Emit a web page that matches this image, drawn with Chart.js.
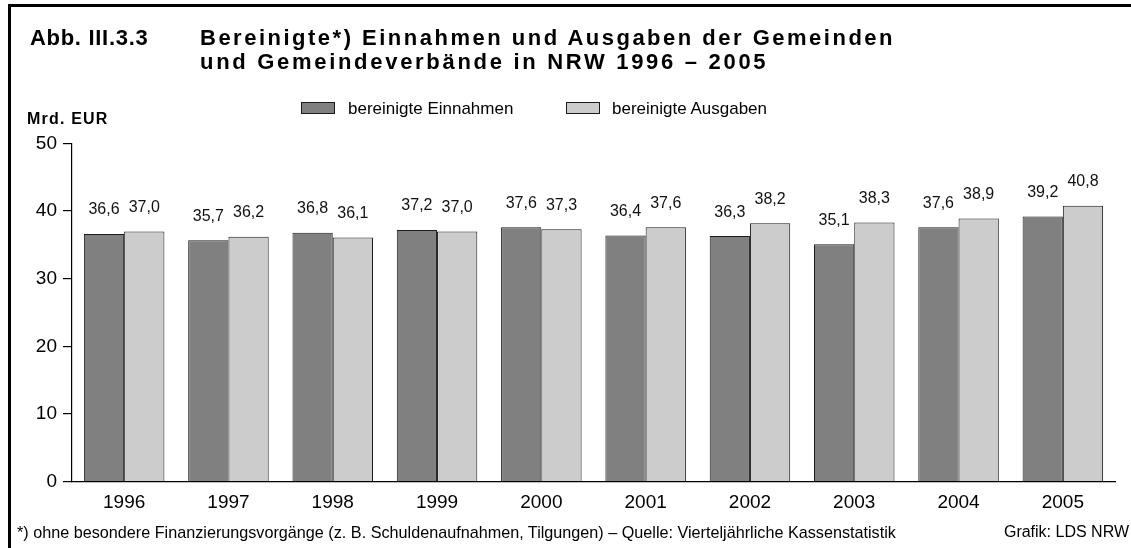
<!DOCTYPE html>
<html>
<head>
<meta charset="utf-8">
<script src="https://cdn.jsdelivr.net/npm/chart.js@4.4.1/dist/chart.umd.min.js"></script>
<style>
  html, body { margin: 0; padding: 0; background: #fff; }
  body { width: 1131px; height: 548px; position: relative; overflow: hidden; font-family: "Liberation Sans", Arial, sans-serif; color: #000; }
  #frame { position: absolute; left: 8px; top: 4px; width: 1130px; height: 550px; border-top: 3px solid #000; border-left: 3px solid #000; box-sizing: border-box; }
  .t { position: absolute; white-space: nowrap; line-height: 1; }
  .bold { font-weight: bold; }
  #abb { left: 30px; top: 27px; font-size: 22px; letter-spacing: 0.7px; }
  #title1 { left: 200px; top: 27px; font-size: 22px; letter-spacing: 2.5px; }
  #title2 { left: 200px; top: 51px; font-size: 22px; letter-spacing: 2.7px; }
  #unit { left: 27px; top: 111px; font-size: 16px; letter-spacing: 1.2px; }
  .lg-box { position: absolute; width: 34px; height: 12px; box-sizing: border-box; border: 1px solid #1a1a1a; }
  .lg-txt { position: absolute; font-size: 17px; line-height: 1; white-space: nowrap; }
  #foot { left: 17px; top: 524px; font-size: 16.2px; }
  #credit { right: 2px; top: 524px; font-size: 16px; }
  #chartwrap { position: absolute; left: 0; top: 0; width: 1131px; height: 548px; }
</style>
</head>
<body>
<div id="chartwrap"><canvas id="c" width="1131" height="548"></canvas></div>
<div id="frame"></div>
<div class="t bold" id="abb">Abb. III.3.3</div>
<div class="t bold" id="title1">Bereinigte*) Einnahmen und Ausgaben der Gemeinden</div>
<div class="t bold" id="title2">und Gemeindeverbände in NRW 1996 – 2005</div>
<div class="t bold" id="unit">Mrd. EUR</div>
<div id="legend"></div>
<div class="t" id="foot">*) ohne besondere Finanzierungsvorgänge (z. B. Schuldenaufnahmen, Tilgungen) – Quelle: Vierteljährliche Kassenstatistik</div>
<div class="t" id="credit">Grafik: LDS NRW</div>
<script>
const categories = ["1996", "1997", "1998", "1999", "2000", "2001", "2002", "2003", "2004", "2005"];
const einnahmen = [36.6, 35.7, 36.8, 37.2, 37.6, 36.4, 36.3, 35.1, 37.6, 39.2];
const ausgaben  = [37.0, 36.2, 36.1, 37.0, 37.3, 37.6, 38.2, 38.3, 38.9, 40.8];
const seriesNames = ["bereinigte Einnahmen", "bereinigte Ausgaben"];
const yTicks = [0, 10, 20, 30, 40, 50];

const colors = ["#808080", "#cccccc"];

// HTML legend
const legendPos = [{box: 301, txt: 348}, {box: 566, txt: 612}];
const lg = document.getElementById('legend');
seriesNames.forEach((n, i) => {
  const b = document.createElement('div');
  b.className = 'lg-box';
  b.style.left = legendPos[i].box + 'px';
  b.style.top = '102px';
  b.style.background = colors[i];
  lg.appendChild(b);
  const t = document.createElement('div');
  t.className = 'lg-txt';
  t.style.left = legendPos[i].txt + 'px';
  t.style.top = '100px';
  t.textContent = n;
  lg.appendChild(t);
});

const fmt = v => v.toFixed(1).replace('.', ',');

const valueLabels = {
  id: 'valueLabels',
  afterDatasetsDraw(chart) {
    const ctx = chart.ctx;
    ctx.save();
    ctx.font = '16px "Liberation Sans", Arial, sans-serif';
    ctx.fillStyle = '#111';
    ctx.textAlign = 'center';
    ctx.textBaseline = 'middle';
    chart.data.datasets.forEach((ds, di) => {
      const meta = chart.getDatasetMeta(di);
      meta.data.forEach((bar, i) => {
        ctx.fillText(fmt(ds.data[i]), bar.x, bar.y - 24);
      });
    });
    ctx.restore();
  }
};

new Chart(document.getElementById('c'), {
  type: 'bar',
  data: {
    labels: categories,
    datasets: [
      { label: seriesNames[0], data: einnahmen, backgroundColor: colors[0], borderColor: '#1a1a1a', borderWidth: 1, borderSkipped: 'bottom', categoryPercentage: 0.772, barPercentage: 1.0 },
      { label: seriesNames[1], data: ausgaben, backgroundColor: colors[1], borderColor: '#1a1a1a', borderWidth: 1, borderSkipped: 'bottom', categoryPercentage: 0.772, barPercentage: 1.0 }
    ]
  },
  options: {
    responsive: false,
    animation: false,
    devicePixelRatio: 1,
    layout: { padding: { top: 143.5, right: 16, bottom: 0, left: 0 } },
    plugins: { legend: { display: false }, title: { display: false }, tooltip: { enabled: false } },
    scales: {
      x: {
        grid: { display: false },
        border: { display: true, color: '#000', width: 1.2 },
        ticks: { color: '#000', padding: 2, font: { size: 19, family: '"Liberation Sans", Arial, sans-serif' } },
        afterFit(scale) { scale.height = 66.5; }
      },
      y: {
        min: 0, max: 50,
        afterBuildTicks(scale) { scale.ticks = yTicks.map(v => ({ value: v })); },
        grid: { display: true, drawOnChartArea: false, drawTicks: true, tickLength: 9, color: '#000', lineWidth: 1.2 },
        border: { display: true, color: '#000', width: 1.2 },
        ticks: { color: '#000', padding: 6, font: { size: 19, family: '"Liberation Sans", Arial, sans-serif' } },
        afterFit(scale) { scale.width = 72; }
      }
    }
  },
  plugins: [valueLabels]
});
</script>
</body>
</html>
